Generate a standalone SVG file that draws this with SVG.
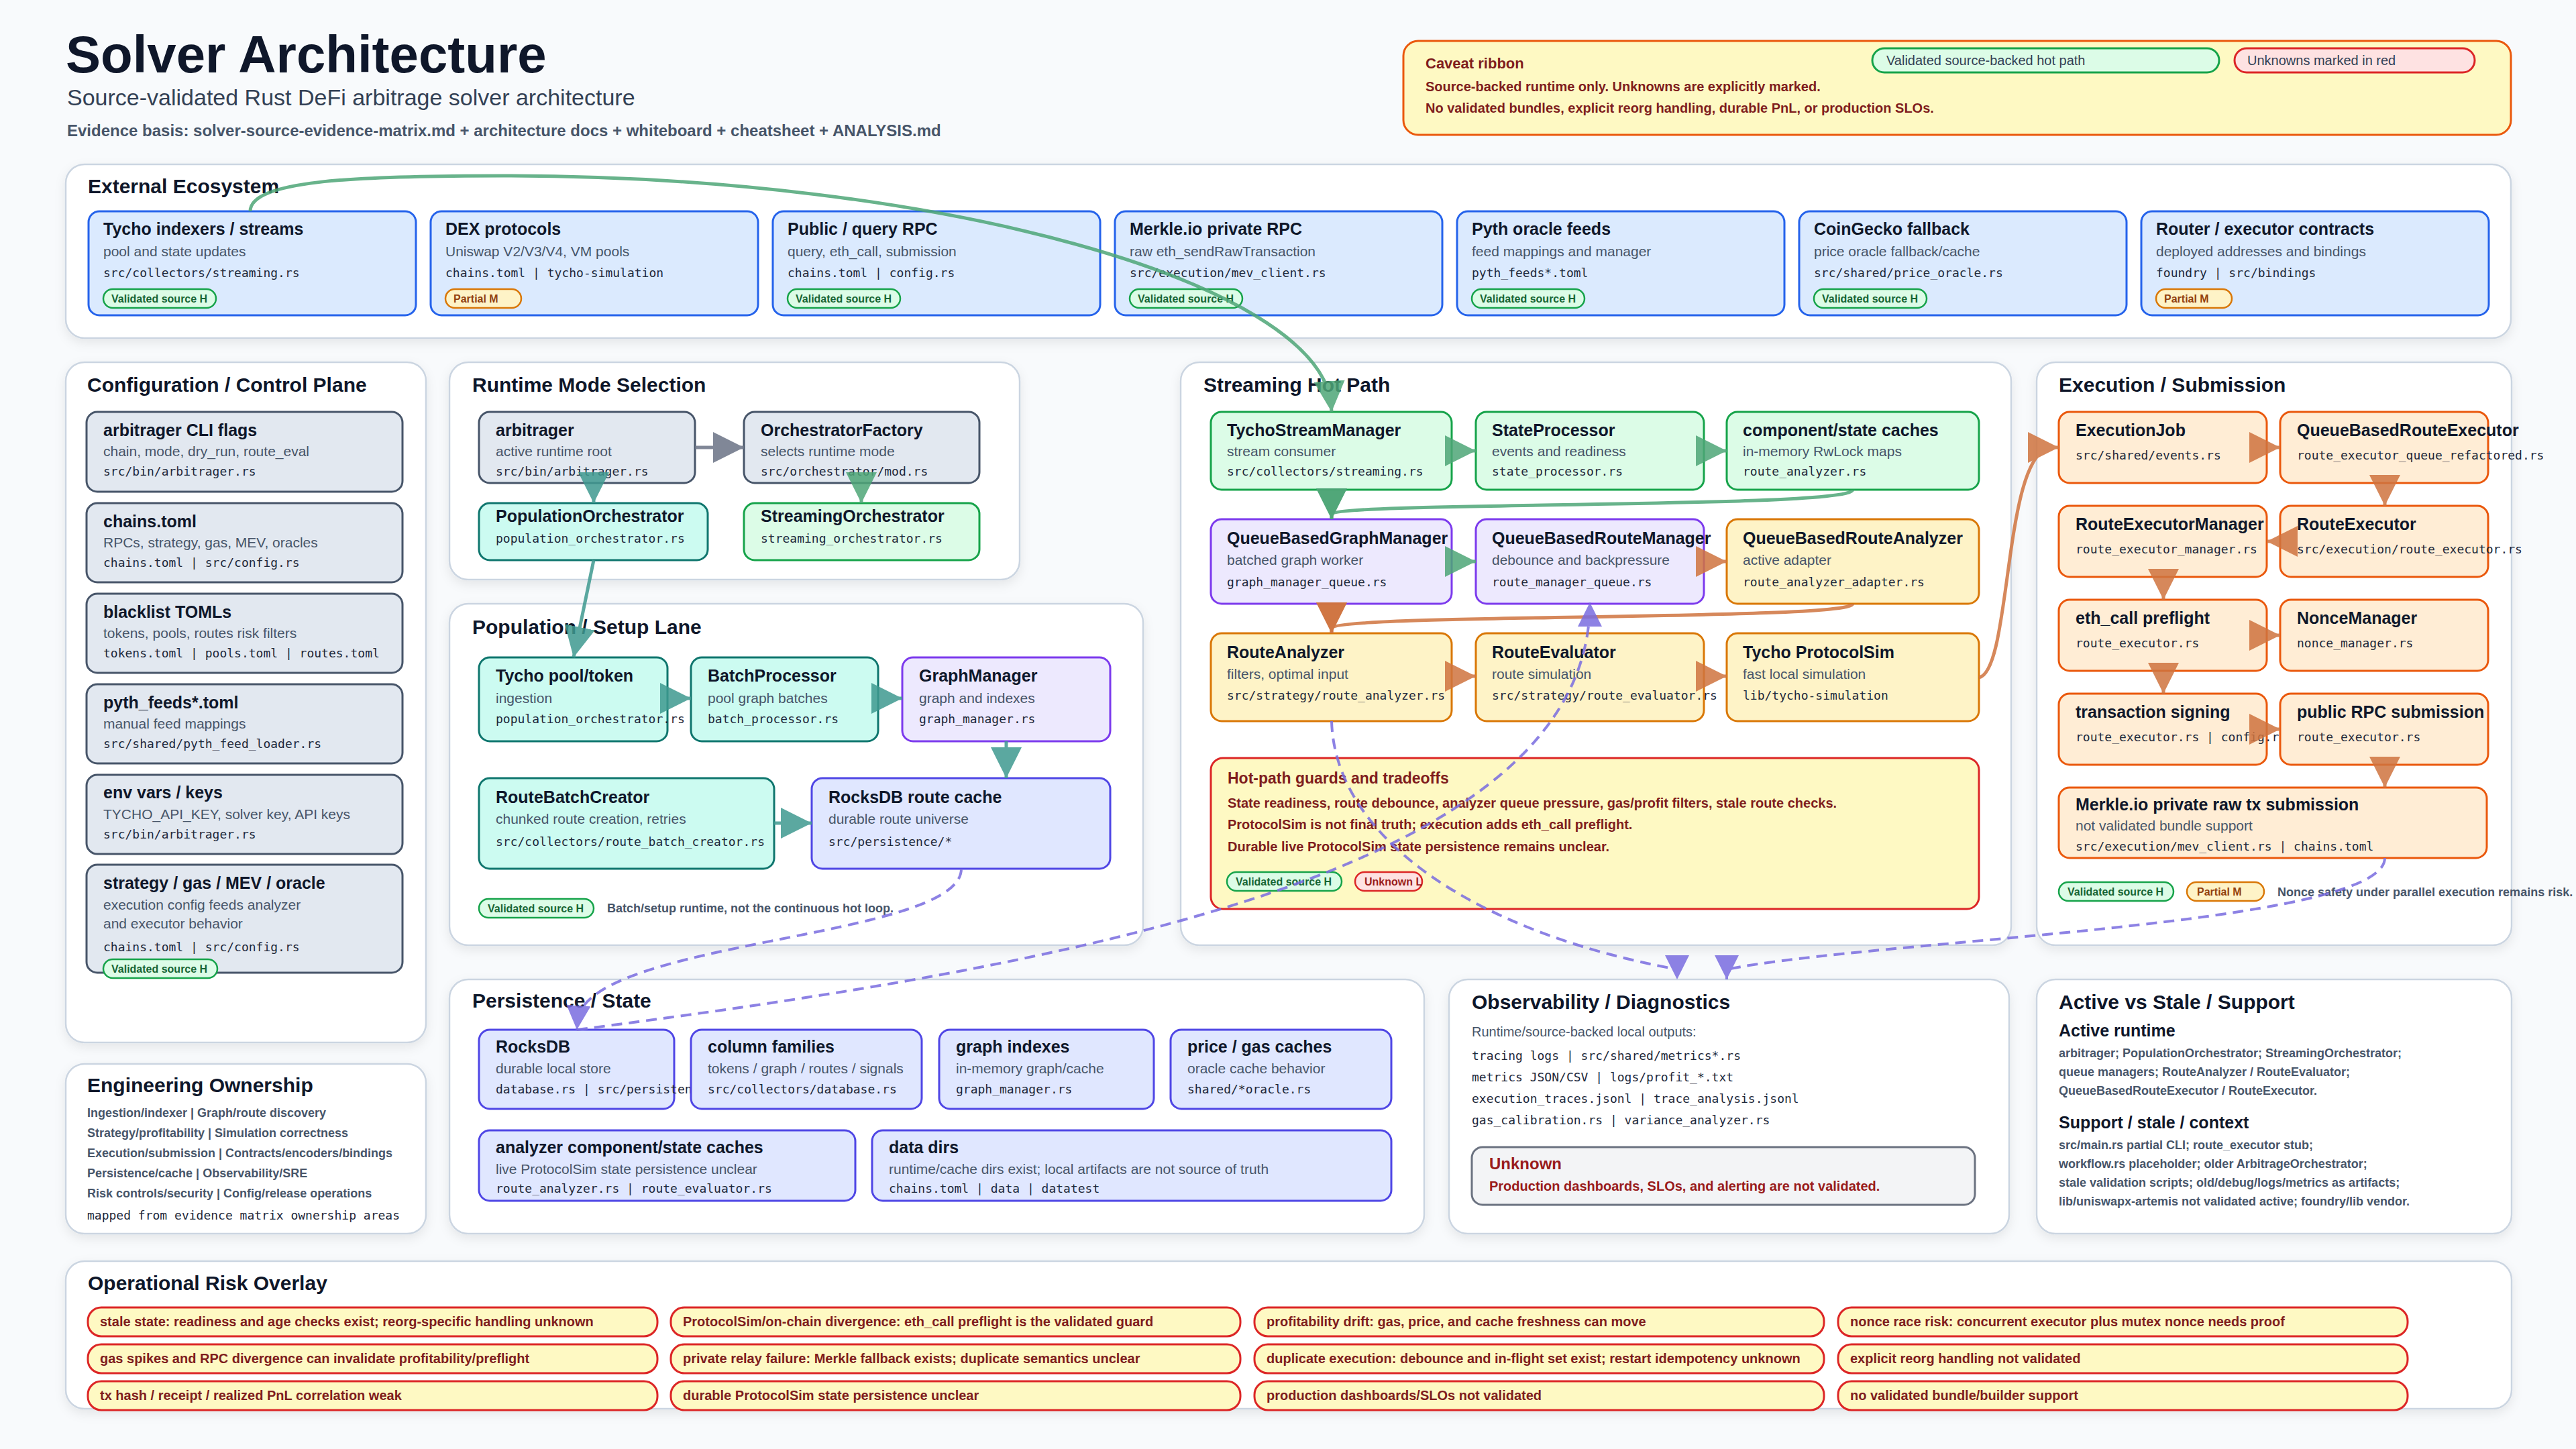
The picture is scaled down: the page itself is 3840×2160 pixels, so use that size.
<svg xmlns="http://www.w3.org/2000/svg" width="3840" height="2160" viewBox="0 0 3840 2160">
<defs>
<filter id="sh" x="-5%" y="-5%" width="110%" height="115%"><feDropShadow dx="0" dy="6" stdDeviation="8" flood-color="#0f172a" flood-opacity="0.08"/></filter>
<marker id="mg" viewBox="0 0 46 46" markerUnits="userSpaceOnUse" markerWidth="46" markerHeight="46" refX="46" refY="23" orient="auto"><path d="M0,0 L46,23 L0,46 Z" fill="#4ea677"/></marker>
<marker id="mt" viewBox="0 0 46 46" markerUnits="userSpaceOnUse" markerWidth="46" markerHeight="46" refX="46" refY="23" orient="auto"><path d="M0,0 L46,23 L0,46 Z" fill="#3f9a90"/></marker>
<marker id="mo" viewBox="0 0 46 46" markerUnits="userSpaceOnUse" markerWidth="46" markerHeight="46" refX="46" refY="23" orient="auto"><path d="M0,0 L46,23 L0,46 Z" fill="#d0743f"/></marker>
<marker id="my" viewBox="0 0 46 46" markerUnits="userSpaceOnUse" markerWidth="46" markerHeight="46" refX="46" refY="23" orient="auto"><path d="M0,0 L46,23 L0,46 Z" fill="#6b7385"/></marker>
<marker id="mp" viewBox="0 0 36 36" markerUnits="userSpaceOnUse" markerWidth="36" markerHeight="36" refX="36" refY="18" orient="auto"><path d="M0,0 L36,18 L0,36 Z" fill="#7a6de0"/></marker>
</defs>
<style>
text{font-family:"Liberation Sans",Arial,Helvetica,sans-serif}
.h1{font-size:78px;font-weight:bold;fill:#0f172a}
.h2{font-size:34px;fill:#334155}
.h3{font-size:24px;font-weight:bold;fill:#475569}
.panel{fill:#ffffff;stroke:#cbd5e1;stroke-width:2.5;filter:url(#sh)}
.pt{font-size:30px;font-weight:bold;fill:#0f172a}
.nt{font-size:25px;font-weight:bold;fill:#0f172a}
.ns{font-size:21px;fill:#475569}
.nm{font-family:"DejaVu Sans Mono","Liberation Mono",monospace;font-size:18px;fill:#1e293b}
.n{stroke-width:3}
.blue{fill:#dbeafe;stroke:#2563eb}
.gray{fill:#e2e8f0;stroke:#475569}
.teal{fill:#ccfbf1;stroke:#0f766e}
.grn{fill:#dcfce7;stroke:#16a34a}
.pur{fill:#ede9fe;stroke:#7c3aed}
.amb{fill:#fef3c7;stroke:#d97706}
.exe{fill:#ffedd5;stroke:#ea580c}
.per{fill:#e0e7ff;stroke:#4f46e5}
.bv{fill:#dcfce7;stroke:#16a34a;stroke-width:2.5}
.bp{fill:#fef3c7;stroke:#d97706;stroke-width:2.5}
.bu{fill:#fee2e2;stroke:#dc2626;stroke-width:2.5}
.btv{font-size:16px;font-weight:bold;fill:#166534}
.btp{font-size:16px;font-weight:bold;fill:#92400e}
.btu{font-size:16px;font-weight:bold;fill:#991b1b}
.red{font-size:20px;font-weight:bold;fill:#7f1d1d}
.note{font-size:18px;font-weight:bold;fill:#475569}
.risk{fill:#fef9c3;stroke:#dc2626;stroke-width:3}
.e{fill:none;stroke-width:5;opacity:0.85}
.eg{stroke:#4ea677}
.et{stroke:#3f9a90}
.eo{stroke:#d0743f}
.ey{stroke:#6b7385}
.ep{stroke:#7a6de0;stroke-width:4;stroke-dasharray:16 10}
</style>
<rect x="0" y="0" width="3840" height="2160" fill="#f8fafc"/>

<g id="header">
<text class="h1" x="98" y="108">Solver Architecture</text>
<text class="h2" x="100" y="157">Source-validated Rust DeFi arbitrage solver architecture</text>
<text class="h3" x="100" y="203">Evidence basis: solver-source-evidence-matrix.md + architecture docs + whiteboard + cheatsheet + ANALYSIS.md</text>
</g>

<g id="caveat">
<rect x="2092" y="61" width="1651" height="140" rx="22" fill="#fef9c3" stroke="#ea580c" stroke-width="3"/>
<text x="2125" y="102" font-size="22" font-weight="bold" fill="#7f1d1d">Caveat ribbon</text>
<text class="red" x="2125" y="136">Source-backed runtime only. Unknowns are explicitly marked.</text>
<text class="red" x="2125" y="168">No validated bundles, explicit reorg handling, durable PnL, or production SLOs.</text>
<rect x="2791" y="72" width="517" height="36" rx="18" fill="#dcfce7" stroke="#16a34a" stroke-width="3"/>
<text x="2812" y="97" font-size="20" fill="#334155">Validated source-backed hot path</text>
<rect x="3331" y="72" width="358" height="36" rx="18" fill="#fee2e2" stroke="#dc2626" stroke-width="3"/>
<text x="3350" y="97" font-size="20" fill="#334155">Unknowns marked in red</text>
</g>

<g id="panels">
<rect class="panel" x="98" y="245" width="3645" height="259" rx="28"/>
<text class="pt" x="131" y="288">External Ecosystem</text>
<rect class="panel" x="98" y="540" width="537" height="1014" rx="28"/>
<text class="pt" x="130" y="584">Configuration / Control Plane</text>
<rect class="panel" x="670" y="540" width="850" height="324" rx="28"/>
<text class="pt" x="704" y="584">Runtime Mode Selection</text>
<rect class="panel" x="670" y="900" width="1034" height="509" rx="28"/>
<text class="pt" x="704" y="945">Population / Setup Lane</text>
<rect class="panel" x="1760" y="540" width="1238" height="869" rx="28"/>
<text class="pt" x="1794" y="584">Streaming Hot Path</text>
<rect class="panel" x="3036" y="540" width="708" height="869" rx="28"/>
<text class="pt" x="3069" y="584">Execution / Submission</text>
<rect class="panel" x="98" y="1586" width="537" height="253" rx="28"/>
<rect class="panel" x="670" y="1460" width="1453" height="379" rx="28"/>
<text class="pt" x="704" y="1502">Persistence / State</text>
<rect class="panel" x="2160" y="1460" width="835" height="379" rx="28"/>
<rect class="panel" x="3036" y="1460" width="708" height="379" rx="28"/>
<rect class="panel" x="98" y="1880" width="3646" height="220" rx="28"/>
</g>

<g id="ext-tycho">
<rect class="n blue" x="132" y="315" width="488" height="155" rx="16"/>
<text class="nt" x="154" y="350">Tycho indexers / streams</text>
<text class="ns" x="154" y="382">pool and state updates</text>
<text class="nm" x="154" y="413">src/collectors/streaming.rs</text>
<rect class="bv" x="154" y="431" width="168" height="28" rx="14"/><text class="btv" x="166" y="451">Validated source H</text>
</g>
<g id="ext-dex">
<rect class="n blue" x="642" y="315" width="488" height="155" rx="16"/>
<text class="nt" x="664" y="350">DEX protocols</text>
<text class="ns" x="664" y="382">Uniswap V2/V3/V4, VM pools</text>
<text class="nm" x="664" y="413">chains.toml | tycho-simulation</text>
<rect class="bp" x="664" y="431" width="113" height="28" rx="14"/><text class="btp" x="676" y="451">Partial M</text>
</g>
<g id="ext-rpc">
<rect class="n blue" x="1152" y="315" width="488" height="155" rx="16"/>
<text class="nt" x="1174" y="350">Public / query RPC</text>
<text class="ns" x="1174" y="382">query, eth_call, submission</text>
<text class="nm" x="1174" y="413">chains.toml | config.rs</text>
<rect class="bv" x="1174" y="431" width="168" height="28" rx="14"/><text class="btv" x="1186" y="451">Validated source H</text>
</g>
<g id="ext-merkle">
<rect class="n blue" x="1662" y="315" width="488" height="155" rx="16"/>
<text class="nt" x="1684" y="350">Merkle.io private RPC</text>
<text class="ns" x="1684" y="382">raw eth_sendRawTransaction</text>
<text class="nm" x="1684" y="413">src/execution/mev_client.rs</text>
<rect class="bv" x="1684" y="431" width="168" height="28" rx="14"/><text class="btv" x="1696" y="451">Validated source H</text>
</g>
<g id="ext-pyth">
<rect class="n blue" x="2172" y="315" width="488" height="155" rx="16"/>
<text class="nt" x="2194" y="350">Pyth oracle feeds</text>
<text class="ns" x="2194" y="382">feed mappings and manager</text>
<text class="nm" x="2194" y="413">pyth_feeds*.toml</text>
<rect class="bv" x="2194" y="431" width="168" height="28" rx="14"/><text class="btv" x="2206" y="451">Validated source H</text>
</g>
<g id="ext-coingecko">
<rect class="n blue" x="2682" y="315" width="488" height="155" rx="16"/>
<text class="nt" x="2704" y="350">CoinGecko fallback</text>
<text class="ns" x="2704" y="382">price oracle fallback/cache</text>
<text class="nm" x="2704" y="413">src/shared/price_oracle.rs</text>
<rect class="bv" x="2704" y="431" width="168" height="28" rx="14"/><text class="btv" x="2716" y="451">Validated source H</text>
</g>
<g id="ext-router">
<rect class="n blue" x="3192" y="315" width="518" height="155" rx="16"/>
<text class="nt" x="3214" y="350">Router / executor contracts</text>
<text class="ns" x="3214" y="382">deployed addresses and bindings</text>
<text class="nm" x="3214" y="413">foundry | src/bindings</text>
<rect class="bp" x="3214" y="431" width="113" height="28" rx="14"/><text class="btp" x="3226" y="451">Partial M</text>
</g>

<g id="cfg-cli">
<rect class="n gray" x="129" y="614" width="471" height="119" rx="16"/>
<text class="nt" x="154" y="650">arbitrager CLI flags</text>
<text class="ns" x="154" y="680">chain, mode, dry_run, route_eval</text>
<text class="nm" x="154" y="709">src/bin/arbitrager.rs</text>
</g>
<g id="cfg-chains">
<rect class="n gray" x="129" y="750" width="471" height="118" rx="16"/>
<text class="nt" x="154" y="786">chains.toml</text>
<text class="ns" x="154" y="816">RPCs, strategy, gas, MEV, oracles</text>
<text class="nm" x="154" y="845">chains.toml | src/config.rs</text>
</g>
<g id="cfg-blacklist">
<rect class="n gray" x="129" y="885" width="471" height="118" rx="16"/>
<text class="nt" x="154" y="921">blacklist TOMLs</text>
<text class="ns" x="154" y="951">tokens, pools, routes risk filters</text>
<text class="nm" x="154" y="980">tokens.toml | pools.toml | routes.toml</text>
</g>
<g id="cfg-pyth">
<rect class="n gray" x="129" y="1020" width="471" height="118" rx="16"/>
<text class="nt" x="154" y="1056">pyth_feeds*.toml</text>
<text class="ns" x="154" y="1086">manual feed mappings</text>
<text class="nm" x="154" y="1115">src/shared/pyth_feed_loader.rs</text>
</g>
<g id="cfg-env">
<rect class="n gray" x="129" y="1155" width="471" height="118" rx="16"/>
<text class="nt" x="154" y="1190">env vars / keys</text>
<text class="ns" x="154" y="1221">TYCHO_API_KEY, solver key, API keys</text>
<text class="nm" x="154" y="1250">src/bin/arbitrager.rs</text>
</g>
<g id="cfg-strategy">
<rect class="n gray" x="129" y="1289" width="471" height="161" rx="16"/>
<text class="nt" x="154" y="1325">strategy / gas / MEV / oracle</text>
<text class="ns" x="154" y="1356">execution config feeds analyzer</text>
<text class="ns" x="154" y="1384">and executor behavior</text>
<text class="nm" x="154" y="1418">chains.toml | src/config.rs</text>
<rect class="bv" x="154" y="1430" width="170" height="28" rx="14"/><text class="btv" x="166" y="1450">Validated source H</text>
</g>

<g id="rt-arbitrager">
<rect class="n gray" x="714" y="614" width="322" height="106" rx="16"/>
<text class="nt" x="739" y="650">arbitrager</text>
<text class="ns" x="739" y="680">active runtime root</text>
<text class="nm" x="739" y="709">src/bin/arbitrager.rs</text>
</g>
<g id="rt-factory">
<rect class="n gray" x="1109" y="614" width="351" height="106" rx="16"/>
<text class="nt" x="1134" y="650">OrchestratorFactory</text>
<text class="ns" x="1134" y="680">selects runtime mode</text>
<text class="nm" x="1134" y="709">src/orchestrator/mod.rs</text>
</g>
<g id="rt-population">
<rect class="n teal" x="714" y="750" width="341" height="85" rx="16"/>
<text class="nt" x="739" y="778">PopulationOrchestrator</text>
<text class="nm" x="739" y="809">population_orchestrator.rs</text>
</g>
<g id="rt-streaming">
<rect class="n grn" x="1109" y="750" width="351" height="85" rx="16"/>
<text class="nt" x="1134" y="778">StreamingOrchestrator</text>
<text class="nm" x="1134" y="809">streaming_orchestrator.rs</text>
</g>

<g id="pop-tycho">
<rect class="n teal" x="714" y="980" width="281" height="125" rx="16"/>
<text class="nt" x="739" y="1016">Tycho pool/token</text>
<text class="ns" x="739" y="1048">ingestion</text>
<text class="nm" x="739" y="1078">population_orchestrator.rs</text>
</g>
<g id="pop-batch">
<rect class="n teal" x="1030" y="980" width="279" height="125" rx="16"/>
<text class="nt" x="1055" y="1016">BatchProcessor</text>
<text class="ns" x="1055" y="1048">pool graph batches</text>
<text class="nm" x="1055" y="1078">batch_processor.rs</text>
</g>
<g id="pop-graph">
<rect class="n pur" x="1345" y="980" width="310" height="125" rx="16"/>
<text class="nt" x="1370" y="1016">GraphManager</text>
<text class="ns" x="1370" y="1048">graph and indexes</text>
<text class="nm" x="1370" y="1078">graph_manager.rs</text>
</g>
<g id="pop-routebatch">
<rect class="n teal" x="714" y="1160" width="440" height="135" rx="16"/>
<text class="nt" x="739" y="1197">RouteBatchCreator</text>
<text class="ns" x="739" y="1228">chunked route creation, retries</text>
<text class="nm" x="739" y="1261">src/collectors/route_batch_creator.rs</text>
</g>
<g id="pop-rockscache">
<rect class="n per" x="1210" y="1160" width="445" height="135" rx="16"/>
<text class="nt" x="1235" y="1197">RocksDB route cache</text>
<text class="ns" x="1235" y="1228">durable route universe</text>
<text class="nm" x="1235" y="1261">src/persistence/*</text>
</g>
<g id="pop-note">
<rect class="bv" x="714" y="1340" width="171" height="28" rx="14"/><text class="btv" x="727" y="1360">Validated source H</text>
<text class="note" x="905" y="1360">Batch/setup runtime, not the continuous hot loop.</text>
</g>

<g id="hot-tycho">
<rect class="n grn" x="1805" y="614" width="359" height="116" rx="16"/>
<text class="nt" x="1829" y="650">TychoStreamManager</text>
<text class="ns" x="1829" y="680">stream consumer</text>
<text class="nm" x="1829" y="709">src/collectors/streaming.rs</text>
</g>
<g id="hot-state">
<rect class="n grn" x="2200" y="614" width="340" height="116" rx="16"/>
<text class="nt" x="2224" y="650">StateProcessor</text>
<text class="ns" x="2224" y="680">events and readiness</text>
<text class="nm" x="2224" y="709">state_processor.rs</text>
</g>
<g id="hot-caches">
<rect class="n grn" x="2574" y="614" width="376" height="116" rx="16"/>
<text class="nt" x="2598" y="650">component/state caches</text>
<text class="ns" x="2598" y="680">in-memory RwLock maps</text>
<text class="nm" x="2598" y="709">route_analyzer.rs</text>
</g>
<g id="hot-qbgm">
<rect class="n pur" x="1805" y="774" width="359" height="126" rx="16"/>
<text class="nt" x="1829" y="811">QueueBasedGraphManager</text>
<text class="ns" x="1829" y="842">batched graph worker</text>
<text class="nm" x="1829" y="874">graph_manager_queue.rs</text>
</g>
<g id="hot-qbrm">
<rect class="n pur" x="2200" y="774" width="340" height="126" rx="16"/>
<text class="nt" x="2224" y="811">QueueBasedRouteManager</text>
<text class="ns" x="2224" y="842">debounce and backpressure</text>
<text class="nm" x="2224" y="874">route_manager_queue.rs</text>
</g>
<g id="hot-qbra">
<rect class="n amb" x="2574" y="774" width="376" height="126" rx="16"/>
<text class="nt" x="2598" y="811">QueueBasedRouteAnalyzer</text>
<text class="ns" x="2598" y="842">active adapter</text>
<text class="nm" x="2598" y="874">route_analyzer_adapter.rs</text>
</g>
<g id="hot-analyzer">
<rect class="n amb" x="1805" y="944" width="359" height="131" rx="16"/>
<text class="nt" x="1829" y="981">RouteAnalyzer</text>
<text class="ns" x="1829" y="1012">filters, optimal input</text>
<text class="nm" x="1829" y="1043">src/strategy/route_analyzer.rs</text>
</g>
<g id="hot-evaluator">
<rect class="n amb" x="2200" y="944" width="340" height="131" rx="16"/>
<text class="nt" x="2224" y="981">RouteEvaluator</text>
<text class="ns" x="2224" y="1012">route simulation</text>
<text class="nm" x="2224" y="1043">src/strategy/route_evaluator.rs</text>
</g>
<g id="hot-protocolsim">
<rect class="n amb" x="2574" y="944" width="376" height="131" rx="16"/>
<text class="nt" x="2598" y="981">Tycho ProtocolSim</text>
<text class="ns" x="2598" y="1012">fast local simulation</text>
<text class="nm" x="2598" y="1043">lib/tycho-simulation</text>
</g>
<g id="hot-guards">
<rect x="1805" y="1130" width="1145" height="225" rx="18" fill="#fef9c3" stroke="#dc2626" stroke-width="3"/>
<text x="1830" y="1168" font-size="23" font-weight="bold" fill="#7f1d1d">Hot-path guards and tradeoffs</text>
<text class="red" x="1830" y="1204">State readiness, route debounce, analyzer queue pressure, gas/profit filters, stale route checks.</text>
<text class="red" x="1830" y="1236">ProtocolSim is not final truth; execution adds eth_call preflight.</text>
<text class="red" x="1830" y="1269">Durable live ProtocolSim state persistence remains unclear.</text>
<rect class="bv" x="1829" y="1300" width="171" height="28" rx="14"/><text class="btv" x="1842" y="1320">Validated source H</text>
<rect class="bu" x="2020" y="1300" width="100" height="28" rx="14"/><text class="btu" x="2034" y="1320">Unknown L</text>
</g>

<g id="exe-job">
<rect class="n exe" x="3069" y="614" width="310" height="106" rx="16"/>
<text class="nt" x="3094" y="650">ExecutionJob</text>
<text class="nm" x="3094" y="685">src/shared/events.rs</text>
</g>
<g id="exe-qbre">
<rect class="n exe" x="3399" y="614" width="310" height="106" rx="16"/>
<text class="nt" x="3424" y="650">QueueBasedRouteExecutor</text>
<text class="nm" x="3424" y="685">route_executor_queue_refactored.rs</text>
</g>
<g id="exe-rem">
<rect class="n exe" x="3069" y="754" width="310" height="106" rx="16"/>
<text class="nt" x="3094" y="790">RouteExecutorManager</text>
<text class="nm" x="3094" y="825">route_executor_manager.rs</text>
</g>
<g id="exe-re">
<rect class="n exe" x="3399" y="754" width="310" height="106" rx="16"/>
<text class="nt" x="3424" y="790">RouteExecutor</text>
<text class="nm" x="3424" y="825">src/execution/route_executor.rs</text>
</g>
<g id="exe-preflight">
<rect class="n exe" x="3069" y="894" width="310" height="106" rx="16"/>
<text class="nt" x="3094" y="930">eth_call preflight</text>
<text class="nm" x="3094" y="965">route_executor.rs</text>
</g>
<g id="exe-nonce">
<rect class="n exe" x="3399" y="894" width="310" height="106" rx="16"/>
<text class="nt" x="3424" y="930">NonceManager</text>
<text class="nm" x="3424" y="965">nonce_manager.rs</text>
</g>
<g id="exe-signing">
<rect class="n exe" x="3069" y="1034" width="310" height="106" rx="16"/>
<text class="nt" x="3094" y="1070">transaction signing</text>
<text class="nm" x="3094" y="1105">route_executor.rs | config.rs</text>
</g>
<g id="exe-public">
<rect class="n exe" x="3399" y="1034" width="310" height="106" rx="16"/>
<text class="nt" x="3424" y="1070">public RPC submission</text>
<text class="nm" x="3424" y="1105">route_executor.rs</text>
</g>
<g id="exe-merkle">
<rect class="n exe" x="3069" y="1174" width="638" height="105" rx="16"/>
<text class="nt" x="3094" y="1208">Merkle.io private raw tx submission</text>
<text class="ns" x="3094" y="1238">not validated bundle support</text>
<text class="nm" x="3094" y="1268">src/execution/mev_client.rs | chains.toml</text>
</g>
<g id="exe-note">
<rect class="bv" x="3069" y="1315" width="171" height="28" rx="14"/><text class="btv" x="3082" y="1335">Validated source H</text>
<rect class="bp" x="3260" y="1315" width="115" height="28" rx="14"/><text class="btp" x="3275" y="1335">Partial M</text>
<text class="note" x="3395" y="1336">Nonce safety under parallel execution remains risk.</text>
</g>

<g id="per-rocksdb">
<rect class="n per" x="714" y="1535" width="291" height="118" rx="16"/>
<text class="nt" x="739" y="1569">RocksDB</text>
<text class="ns" x="739" y="1600">durable local store</text>
<text class="nm" x="739" y="1630">database.rs | src/persistence/*</text>
</g>
<g id="per-columns">
<rect class="n per" x="1030" y="1535" width="344" height="118" rx="16"/>
<text class="nt" x="1055" y="1569">column families</text>
<text class="ns" x="1055" y="1600">tokens / graph / routes / signals</text>
<text class="nm" x="1055" y="1630">src/collectors/database.rs</text>
</g>
<g id="per-indexes">
<rect class="n per" x="1400" y="1535" width="320" height="118" rx="16"/>
<text class="nt" x="1425" y="1569">graph indexes</text>
<text class="ns" x="1425" y="1600">in-memory graph/cache</text>
<text class="nm" x="1425" y="1630">graph_manager.rs</text>
</g>
<g id="per-price">
<rect class="n per" x="1745" y="1535" width="329" height="118" rx="16"/>
<text class="nt" x="1770" y="1569">price / gas caches</text>
<text class="ns" x="1770" y="1600">oracle cache behavior</text>
<text class="nm" x="1770" y="1630">shared/*oracle.rs</text>
</g>
<g id="per-analyzer">
<rect class="n per" x="714" y="1685" width="561" height="105" rx="16"/>
<text class="nt" x="739" y="1719">analyzer component/state caches</text>
<text class="ns" x="739" y="1750">live ProtocolSim state persistence unclear</text>
<text class="nm" x="739" y="1778">route_analyzer.rs | route_evaluator.rs</text>
</g>
<g id="per-datadirs">
<rect class="n per" x="1300" y="1685" width="774" height="105" rx="16"/>
<text class="nt" x="1325" y="1719">data dirs</text>
<text class="ns" x="1325" y="1750">runtime/cache dirs exist; local artifacts are not source of truth</text>
<text class="nm" x="1325" y="1778">chains.toml | data | datatest</text>
</g>

<g id="observability">
<text class="pt" x="2194" y="1504">Observability / Diagnostics</text>
<text x="2194" y="1545" font-size="20" fill="#475569">Runtime/source-backed local outputs:</text>
<text class="nm" x="2194" y="1580">tracing logs | src/shared/metrics*.rs</text>
<text class="nm" x="2194" y="1612">metrics JSON/CSV | logs/profit_*.txt</text>
<text class="nm" x="2194" y="1644">execution_traces.jsonl | trace_analysis.jsonl</text>
<text class="nm" x="2194" y="1676">gas_calibration.rs | variance_analyzer.rs</text>
<rect x="2194" y="1710" width="750" height="86" rx="16" fill="#f3f4f6" stroke="#6b7280" stroke-width="3"/>
<text x="2220" y="1743" font-size="24" font-weight="bold" fill="#991b1b">Unknown</text>
<text x="2220" y="1775" font-size="20" font-weight="bold" fill="#991b1b">Production dashboards, SLOs, and alerting are not validated.</text>
</g>

<g id="active-stale">
<text class="pt" x="3069" y="1504">Active vs Stale / Support</text>
<text class="nt" x="3069" y="1545">Active runtime</text>
<text class="note" x="3069" y="1576">arbitrager; PopulationOrchestrator; StreamingOrchestrator;</text>
<text class="note" x="3069" y="1604">queue managers; RouteAnalyzer / RouteEvaluator;</text>
<text class="note" x="3069" y="1632">QueueBasedRouteExecutor / RouteExecutor.</text>
<text class="nt" x="3069" y="1682">Support / stale / context</text>
<text class="note" x="3069" y="1713">src/main.rs partial CLI; route_executor stub;</text>
<text class="note" x="3069" y="1741">workflow.rs placeholder; older ArbitrageOrchestrator;</text>
<text class="note" x="3069" y="1769">stale validation scripts; old/debug/logs/metrics as artifacts;</text>
<text class="note" x="3069" y="1797">lib/uniswapx-artemis not validated active; foundry/lib vendor.</text>
</g>

<g id="ownership">
<text class="pt" x="130" y="1628">Engineering Ownership</text>
<text class="note" x="130" y="1665">Ingestion/indexer | Graph/route discovery</text>
<text class="note" x="130" y="1695">Strategy/profitability | Simulation correctness</text>
<text class="note" x="130" y="1725">Execution/submission | Contracts/encoders/bindings</text>
<text class="note" x="130" y="1755">Persistence/cache | Observability/SRE</text>
<text class="note" x="130" y="1785">Risk controls/security | Config/release operations</text>
<text class="nm" x="130" y="1818" fill="#334155">mapped from evidence matrix ownership areas</text>
</g>

<g id="risk-overlay">
<text class="pt" x="131" y="1923">Operational Risk Overlay</text>
<rect class="risk" x="131" y="1949" width="849" height="43" rx="20"/><text class="red" x="149" y="1977">stale state: readiness and age checks exist; reorg-specific handling unknown</text>
<rect class="risk" x="131" y="2004" width="849" height="43" rx="20"/><text class="red" x="149" y="2032">gas spikes and RPC divergence can invalidate profitability/preflight</text>
<rect class="risk" x="131" y="2059" width="849" height="43" rx="20"/><text class="red" x="149" y="2087">tx hash / receipt / realized PnL correlation weak</text>
<rect class="risk" x="1000" y="1949" width="849" height="43" rx="20"/><text class="red" x="1018" y="1977">ProtocolSim/on-chain divergence: eth_call preflight is the validated guard</text>
<rect class="risk" x="1000" y="2004" width="849" height="43" rx="20"/><text class="red" x="1018" y="2032">private relay failure: Merkle fallback exists; duplicate semantics unclear</text>
<rect class="risk" x="1000" y="2059" width="849" height="43" rx="20"/><text class="red" x="1018" y="2087">durable ProtocolSim state persistence unclear</text>
<rect class="risk" x="1870" y="1949" width="849" height="43" rx="20"/><text class="red" x="1888" y="1977">profitability drift: gas, price, and cache freshness can move</text>
<rect class="risk" x="1870" y="2004" width="849" height="43" rx="20"/><text class="red" x="1888" y="2032">duplicate execution: debounce and in-flight set exist; restart idempotency unknown</text>
<rect class="risk" x="1870" y="2059" width="849" height="43" rx="20"/><text class="red" x="1888" y="2087">production dashboards/SLOs not validated</text>
<rect class="risk" x="2740" y="1949" width="849" height="43" rx="20"/><text class="red" x="2758" y="1977">nonce race risk: concurrent executor plus mutex nonce needs proof</text>
<rect class="risk" x="2740" y="2004" width="849" height="43" rx="20"/><text class="red" x="2758" y="2032">explicit reorg handling not validated</text>
<rect class="risk" x="2740" y="2059" width="849" height="43" rx="20"/><text class="red" x="2758" y="2087">no validated bundle/builder support</text>
</g>

<g id="connectors">
<path class="e ey" d="M1036,667 L1109,667" marker-end="url(#my)"/>
<path class="e et" d="M885,720 L885,750" marker-end="url(#mt)"/>
<path class="e eg" d="M1284,720 L1284,750" marker-end="url(#mg)"/>
<path class="e et" d="M885,835 L855,980" marker-end="url(#mt)"/>
<path class="e et" d="M995,1041 L1030,1041" marker-end="url(#mt)"/>
<path class="e et" d="M1309,1041 L1345,1041" marker-end="url(#mt)"/>
<path class="e et" d="M1500,1105 L1500,1160" marker-end="url(#mt)"/>
<path class="e et" d="M1154,1227 L1210,1227" marker-end="url(#mt)"/>
<path class="e eg" d="M373,315 C373,270 520,262 750,262 C1400,262 1960,420 1984,600 L1985,614" marker-end="url(#mg)"/>
<path class="e eg" d="M2164,672 L2200,672" marker-end="url(#mg)"/>
<path class="e eg" d="M2540,672 L2574,672" marker-end="url(#mg)"/>
<path class="e eg" d="M1985,730 L1985,774" marker-end="url(#mg)"/>
<path class="e eg" d="M2762,730 C2762,758 2000,748 1985,766 L1985,774" marker-end="url(#mg)"/>
<path class="e eg" d="M2164,837 L2200,837" marker-end="url(#mg)"/>
<path class="e eo" d="M2540,837 L2574,837" marker-end="url(#mo)"/>
<path class="e eo" d="M1985,900 L1985,944" marker-end="url(#mo)"/>
<path class="e eo" d="M2762,900 C2762,925 2000,915 1985,936 L1985,944" marker-end="url(#mo)"/>
<path class="e eo" d="M2164,1008 L2200,1008" marker-end="url(#mo)"/>
<path class="e eo" d="M2540,1008 L2574,1008" marker-end="url(#mo)"/>
<path class="e eo" d="M2950,1010 C3000,1000 2985,667 3060,667 L3069,667" marker-end="url(#mo)"/>
<path class="e eo" d="M3379,667 L3399,667" marker-end="url(#mo)"/>
<path class="e eo" d="M3555,720 L3555,754" marker-end="url(#mo)"/>
<path class="e eo" d="M3399,807 L3379,807" marker-end="url(#mo)"/>
<path class="e eo" d="M3225,860 L3225,894" marker-end="url(#mo)"/>
<path class="e eo" d="M3379,947 L3399,947" marker-end="url(#mo)"/>
<path class="e eo" d="M3225,1000 L3225,1034" marker-end="url(#mo)"/>
<path class="e eo" d="M3379,1087 L3399,1087" marker-end="url(#mo)"/>
<path class="e eo" d="M3555,1140 L3555,1174" marker-end="url(#mo)"/>
<path class="e ep" d="M1433,1295 C1433,1400 880,1400 861,1520 L860,1535" marker-end="url(#mp)"/>
<path class="e ep" d="M860,1535 C1600,1440 2370,1300 2370,898" marker-end="url(#mp)"/>
<path class="e ep" d="M1985,1075 C1990,1250 2200,1390 2500,1445 L2500,1460" marker-end="url(#mp)"/>
<path class="e ep" d="M3555,1279 C3555,1380 2800,1400 2574,1445 L2574,1460" marker-end="url(#mp)"/>
</g>
</svg>
